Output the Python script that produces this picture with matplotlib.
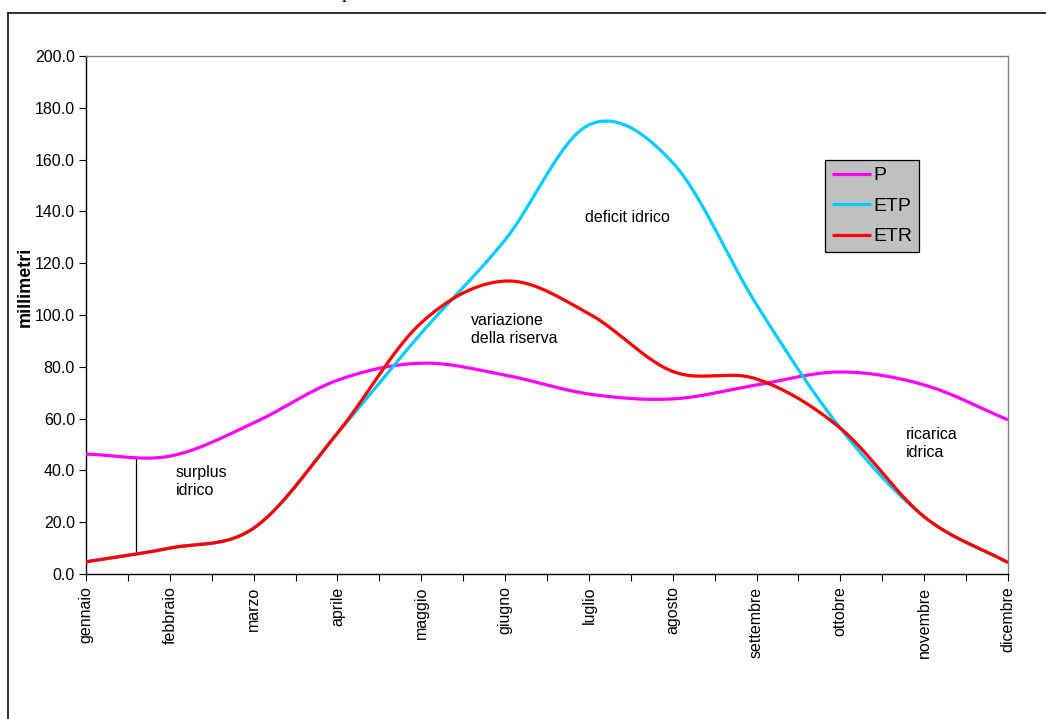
import matplotlib.pyplot as plt
from matplotlib.lines import Line2D
import numpy as np

plt.rcParams['font.family'] = ['Liberation Sans', 'DejaVu Sans']

mesi = ['gennaio', 'febbraio', 'marzo', 'aprile', 'maggio', 'giugno',
        'luglio', 'agosto', 'settembre', 'ottobre', 'novembre', 'dicembre']
P = [46.3, 45.5, 58.3, 74.8, 81.4, 76.8, 69.5, 67.6, 73.0, 78.0, 73.0, 59.5]
ETP = [4.7, 10.0, 17.7, 54.4, 93.0, 129.0, 173.4, 158.8, 104.0, 56.3, 22.1, 4.4]
ETR = [4.7, 10.0, 17.7, 54.4, 97.0, 113.1, 100.5, 78.2, 75.3, 56.3, 22.1, 4.4]


def smooth(y, n=40):
    # Catmull-Rom like Excel's "smoothed line"
    y = np.asarray(y, float)
    yp = np.concatenate([[2 * y[0] - y[1]], y, [2 * y[-1] - y[-2]]])
    xs, ys = [], []
    for i in range(len(y) - 1):
        t = np.linspace(0, 1, n, endpoint=False)
        m0 = (yp[i + 2] - yp[i]) / 2
        m1 = (yp[i + 3] - yp[i + 1]) / 2
        h00 = 2 * t**3 - 3 * t**2 + 1
        h10 = t**3 - 2 * t**2 + t
        h01 = -2 * t**3 + 3 * t**2
        h11 = t**3 - t**2
        xs.append(i + t)
        ys.append(h00 * y[i] + h10 * m0 + h01 * y[i + 1] + h11 * m1)
    xs.append([len(y) - 1])
    ys.append([y[-1]])
    return np.concatenate(xs), np.concatenate(ys)


fig = plt.figure(figsize=(10.46, 7.19), dpi=100)
ax = fig.add_axes([86 / 1046, 145 / 719, 922 / 1046, 518 / 719])

series = [('P', P, '#FF00FF'), ('ETP', ETP, '#00CCFF'), ('ETR', ETR, '#FF0000')]
curves = {}
for name, vals, col in series:
    xs, ys = smooth(vals)
    curves[name] = (xs, ys)
    ax.plot(xs, ys, color=col, lw=2.3, label=name, solid_capstyle='butt', zorder=3)

# linea verticale del surplus
xv = 0.6
yp_v = np.interp(xv, *curves['P'])
yr_v = np.interp(xv, *curves['ETR'])
ax.plot([xv, xv], [yr_v, yp_v], color='black', lw=0.9, zorder=2)

ax.set_xlim(0, 11)
ax.set_ylim(0, 200)
ax.set_yticks(np.arange(0, 201, 20))
ax.set_yticklabels([f'{v:.1f}' for v in np.arange(0, 201, 20)], fontsize=11.5)
ax.set_xticks(range(12))
ax.set_xticklabels(mesi, rotation=90, fontsize=11.5, va='top')
ax.set_xticks(np.arange(0.5, 11, 1), minor=True)
ax.tick_params(axis='both', which='both', direction='out', length=5, width=0.8, color='black')
ax.tick_params(axis='x', pad=4)
ax.tick_params(axis='y', pad=3)

for s in ['top', 'right']:
    ax.spines[s].set_color('#808080')
    ax.spines[s].set_linewidth(1.0)
for s in ['left', 'bottom']:
    ax.spines[s].set_color('black')
    ax.spines[s].set_linewidth(1.0)

ax.set_ylabel('millimetri', fontsize=13, fontweight='bold')
ax.yaxis.set_label_coords(-(86 - 34) / 922, (574 - 287) / 518)

ax.text(1.07, 35.7, 'surplus\nidrico', fontsize=11.5, va='center', ha='left', linespacing=1.25)
ax.text(5.95, 137.5, 'deficit idrico', fontsize=11.5, va='center', ha='left')
ax.text(4.59, 94.5, 'variazione\ndella riserva', fontsize=11.5, va='center', ha='left', linespacing=1.25)
ax.text(9.78, 50.5, 'ricarica\nidrica', fontsize=11.5, va='center', ha='left', linespacing=1.25)

leg = ax.legend(loc='upper left', bbox_to_anchor=((825 - 86) / 922, (574 - 160) / 518),
                fontsize=14, frameon=True, fancybox=False, handlelength=2.0,
                handletextpad=0.15, borderpad=0.35, labelspacing=0.66, borderaxespad=0)
leg.get_frame().set_facecolor('#C0C0C0')
leg.get_frame().set_edgecolor('black')
leg.get_frame().set_linewidth(0.9)
leg.get_frame().set_alpha(1)

# bordo esterno del grafico
fig.add_artist(Line2D([8 / 1046, 1.01], [1 - 13 / 719, 1 - 13 / 719], transform=fig.transFigure,
                      color='#202020', lw=1.3))
fig.add_artist(Line2D([8 / 1046, 8 / 1046], [-0.01, 1 - 13 / 719], transform=fig.transFigure,
                      color='#202020', lw=1.3))
fig.text(346 / 1046, 1 + 2 / 719, 'p', family='Liberation Serif', fontsize=14, va='baseline', ha='center')

fig.savefig('out.png', dpi=100)
